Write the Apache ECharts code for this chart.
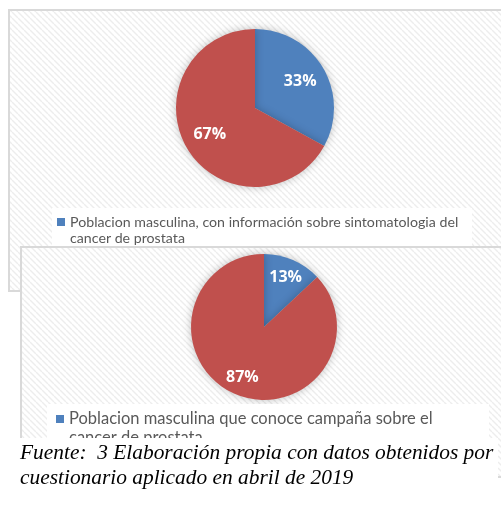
<!DOCTYPE html>
<html>
<head>
<meta charset="utf-8">
<script src="https://cdn.jsdelivr.net/npm/echarts@6/dist/echarts.min.js"></script>
<style>
  html, body { margin: 0; padding: 0; background: #fff; }
  #container { width: 501px; height: 510px; }
</style>
</head>
<body>
<div id="container"></div>
<script>
// datos de las dos graficas
let namesSintomas = ['Poblacion masculina, con información sobre sintomatologia del cancer de prostata', 'Sin información'];
let valuesSintomas = [33, 67];
let namesCampana = ['Poblacion masculina que conoce campaña sobre el cancer de prostata', 'No conoce campaña'];
let valuesCampana = [13, 87];
let colors = ['#4f81bd', '#c0504d'];
let fuente = ['Fuente:  3 Elaboración propia con datos obtenidos por', 'cuestionario aplicado en abril de 2019'];

// trama diagonal del fondo
var tile = document.createElement('canvas');
tile.width = 6; tile.height = 6;
var tctx = tile.getContext('2d');
tctx.fillStyle = '#ffffff';
tctx.fillRect(0, 0, 6, 6);
tctx.strokeStyle = '#ededed';
tctx.lineWidth = 1.4;
for (var k = -6; k <= 6; k += 6) {
    tctx.beginPath();
    tctx.moveTo(k, 0);
    tctx.lineTo(k + 6, 6);
    tctx.stroke();
}
var hatch = { image: tile, repeat: 'repeat' };

function toData(names, values) {
    return names.map(function (n, i) {
        return { name: n, value: values[i], itemStyle: { color: colors[i] } };
    });
}
function labelData(names, values) {
    return names.map(function (n, i) {
        return { name: n, value: values[i], itemStyle: { color: 'transparent' } };
    });
}

// icono cuadrado arriba, alto = 8 + alto de linea, para que quede junto a la 1a linea
function squareIcon(h) {
    return 'path://M0,0H8V8H0Z M0,' + (h - 0.05) + 'H0.01V' + h + 'H0Z';
}

var dom = document.getElementById('container');
var myChart = echarts.init(dom, null, { renderer: 'canvas' });

var option = {
    animation: false,
    backgroundColor: '#ffffff',
    color: colors,
    legend: [
        {
            z: 4,
            left: 52, top: 208,
            padding: [5.75, 0, 0, 5],
            backgroundColor: '#ffffff',
            icon: squareIcon(24.5),
            itemWidth: 8, itemHeight: 24.5,
            selectedMode: false,
            data: [{ name: namesSintomas[0], itemStyle: { color: colors[0] } }],
            textStyle: { color: '#595959', fontFamily: 'Lato', fontSize: 14.2, lineHeight: 16.5, width: 402, overflow: 'break' }
        },
        {
            z: 7,
            left: 47, top: 404,
            padding: [5.5, 0, 0, 9],
            backgroundColor: '#ffffff',
            icon: squareIcon(27),
            itemWidth: 8, itemHeight: 27,
            selectedMode: false,
            data: [{ name: namesCampana[0], itemStyle: { color: colors[0] } }],
            textStyle: { color: '#595959', fontFamily: 'Lato', fontSize: 16.5, lineHeight: 19, width: 420, overflow: 'break' }
        }
    ],
    graphic: [
        { type: 'rect', z: 0, shape: { x: 9, y: 10, width: 520, height: 281 },
          style: { fill: hatch, stroke: '#d9d9d9', lineWidth: 2 } },
        { type: 'rect', z: 5, shape: { x: 21, y: 247, width: 520, height: 230 },
          style: { fill: hatch, stroke: '#d9d9d9', lineWidth: 2 } },
        { type: 'rect', z: 10, shape: { x: 0, y: 438, width: 498, height: 72 },
          style: { fill: '#ffffff' } },
        { type: 'text', z: 11, x: 20, y: 453,
          style: { text: fuente[0], font: 'italic 21.4px "Liberation Serif"', fill: '#000', textVerticalAlign: 'middle' } },
        { type: 'text', z: 11, x: 20, y: 478,
          style: { text: fuente[1], font: 'italic 21.4px "Liberation Serif"', fill: '#000', textVerticalAlign: 'middle' } }
    ],
    series: [
        {
            type: 'pie', z: 2, silent: true,
            center: [255, 108], radius: 79,
            label: { show: false }, labelLine: { show: false },
            itemStyle: { shadowBlur: 9, shadowColor: 'rgba(0,0,0,0.25)' },
            data: toData(namesSintomas, valuesSintomas)
        },
        {
            type: 'pie', z: 3, silent: true,
            center: [255, 108], radius: [20, 79],
            label: { show: true, position: 'inside', formatter: '{c}%', color: '#fff',
                     fontFamily: 'Open Sans', fontWeight: 'bold', fontSize: 16 },
            labelLine: { show: false },
            data: labelData(namesSintomas, valuesSintomas)
        },
        {
            type: 'pie', z: 6, silent: true,
            center: [264, 327], radius: 73,
            label: { show: false }, labelLine: { show: false },
            itemStyle: { shadowBlur: 9, shadowColor: 'rgba(0,0,0,0.25)' },
            data: toData(namesCampana, valuesCampana)
        },
        {
            type: 'pie', z: 6.5, silent: true,
            center: [264, 327], radius: [30, 73],
            label: { show: true, position: 'inside', formatter: '{c}%', color: '#fff',
                     fontFamily: 'Open Sans', fontWeight: 'bold', fontSize: 16 },
            labelLine: { show: false },
            data: labelData(namesCampana, valuesCampana)
        }
    ]
};

if (option && typeof option === 'object') {
    myChart.setOption(option);
}

window.addEventListener('resize', myChart.resize);
</script>
</body>
</html>
